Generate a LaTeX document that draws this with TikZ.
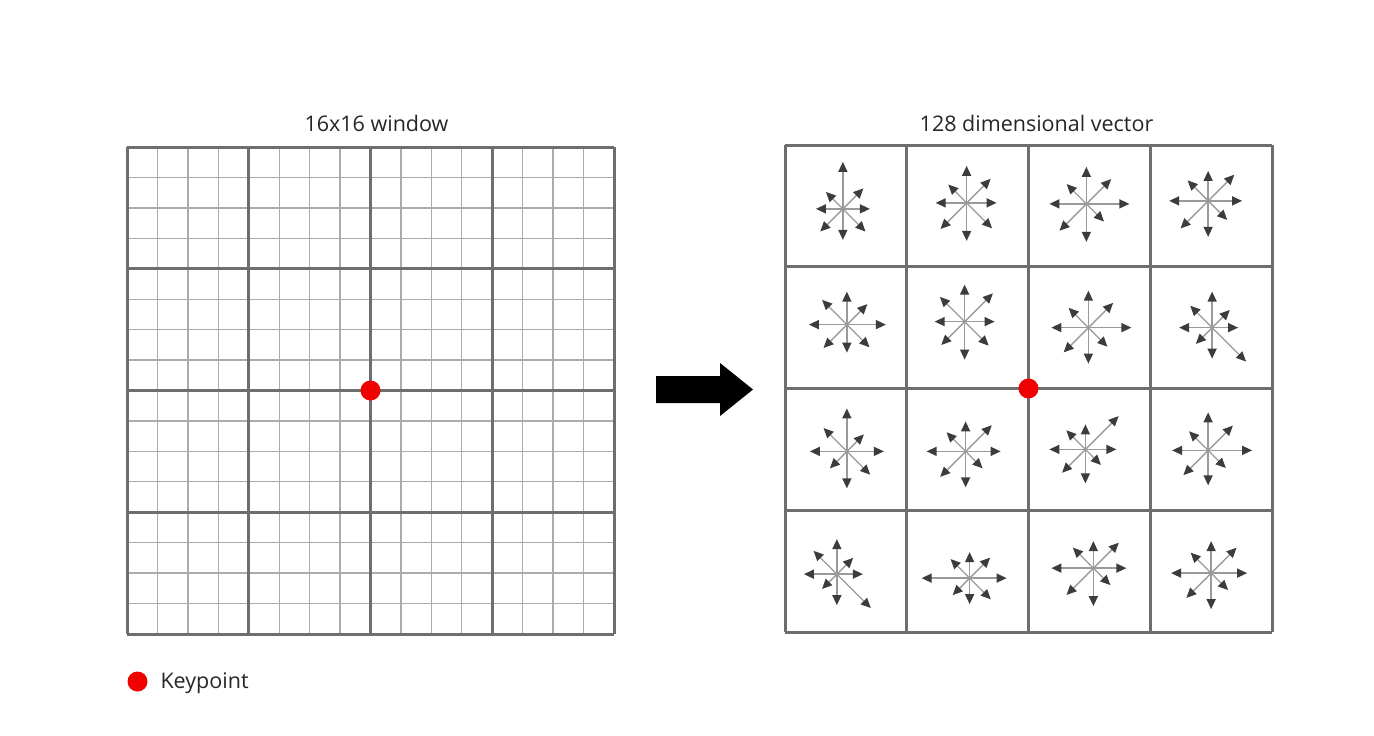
\documentclass[tikz,border=0pt]{standalone}
\usepackage{fontspec}
\setmainfont{Open Sans}
\usetikzlibrary{arrows.meta, positioning}
\usepackage{xcolor}
\definecolor{gridDark}{HTML}{6E6E6E}
\definecolor{gridLight}{HTML}{ABABAB}
\definecolor{kpRed}{HTML}{F00000}
\definecolor{binLine}{HTML}{9A9A9A}
\definecolor{binHead}{HTML}{3C3C3C}

\tikzset{
  fine grid/.style={draw=gridLight, line width=1.3pt},
  cell grid/.style={draw=gridDark, line width=3pt},
  keypoint/.style={circle, fill=kpRed, inner sep=0pt, minimum size=20pt},
  bin arrow/.style={draw=binLine, line width=1.4pt, -{Triangle[length=10pt, width=9pt, color=binHead]}},
  label text/.style={font=\fontsize{21.5}{25}\selectfont, text=black!85}
}

\begin{document}
\begin{tikzpicture}[x=1pt, y=-1pt]
    \useasboundingbox (0,0) rectangle (1374,736);

    % Titles
    \node[label text, anchor=base] (winTitle) at (376.5,131) {16x16 window};
    \node[label text, anchor=base] (vecTitle) at (1036.5,131) {128 dimensional vector};

    % Left window: fine lines
    \foreach \k in {1,...,15} {
        \draw[fine grid] ({127+30.4375*\k},147) -- ({127+30.4375*\k},634);
        \draw[fine grid] (127,{147+30.4375*\k}) -- (614,{147+30.4375*\k});
    }
    % Left window: 4x4 cells
    \foreach \k in {0,...,4} {
        \draw[cell grid] ({127+121.75*\k},147) -- ({127+121.75*\k},634);
        \draw[cell grid] (127,{147+121.75*\k}) -- (614,{147+121.75*\k});
    }

    % Big arrow
    \fill[black] (656,376) -- (720,376) -- (720,363) -- (753,389.5)
        -- (720,416) -- (720,403) -- (656,403) -- cycle;

    % Right grid: 4x4 cells
    \foreach \k in {0,...,4} {
        \draw[cell grid] ({785+121.75*\k},145) -- ({785+121.75*\k},632);
        \draw[cell grid] (785,{145+121.75*\k}) -- (1272,{145+121.75*\k});
    }

    % Orientation histograms (E, NE, N, NW, W, SW, S, SE)
    \foreach \i/\j/\dx/\dy/\lens in {
        0/0/-3/3/{27,29,47,24,27,32,31,32},
        0/1/-1/-3/{30,34,37,26,31,37,38,36},
        0/2/-3/-2/{43,35,37,28,37,38,38,25},
        0/3/-3/-5/{34,37,30,29,39,39,36,27},
        1/0/1/-3/{39,29,33,35,38,33,28,32},
        1/1/-3/-6/{30,40,37,35,30,33,38,34},
        1/2/-1/0/{43,35,37,28,37,35,36,27},
        1/3/1/0/{26,25,36,31,33,23,31,48},
        2/0/1/2/{37,24,43,33,37,24,37,33},
        2/1/-2/2/{35,37,30,27,39,36,36,24},
        2/2/-4/0/{31,47,25,27,36,33,34,22},
        2/3/-3/1/{44,35,38,27,36,35,35,25},
        3/0/-9/3/{26,23,35,33,33,21,31,48},
        3/1/2/7/{37,29,26,27,48,24,26,30},
        3/2/4/-3/{33,36,27,29,42,38,38,24},
        3/3/0/2/{36,36,32,29,40,35,36,24}} {
        \coordinate (bin) at ({845.875+121.75*\j+\dx},{205.875+121.75*\i+\dy});
        \foreach \r [count=\n from 0] in \lens
            \draw[bin arrow] (bin) -- ++({\r*cos(45*\n)},{-\r*sin(45*\n)});
    }

    % Keypoints
    \node[keypoint] (kpLeft) at (370.5,390.5) {};
    \node[keypoint] (kpRight) at (1028.5,388.5) {};

    % Legend
    \node[keypoint] (kpLegend) at (137.5,681.5) {};
    \node[label text, anchor=base west] (kpText) at (157,688) {Keypoint};
\end{tikzpicture}
\end{document}
